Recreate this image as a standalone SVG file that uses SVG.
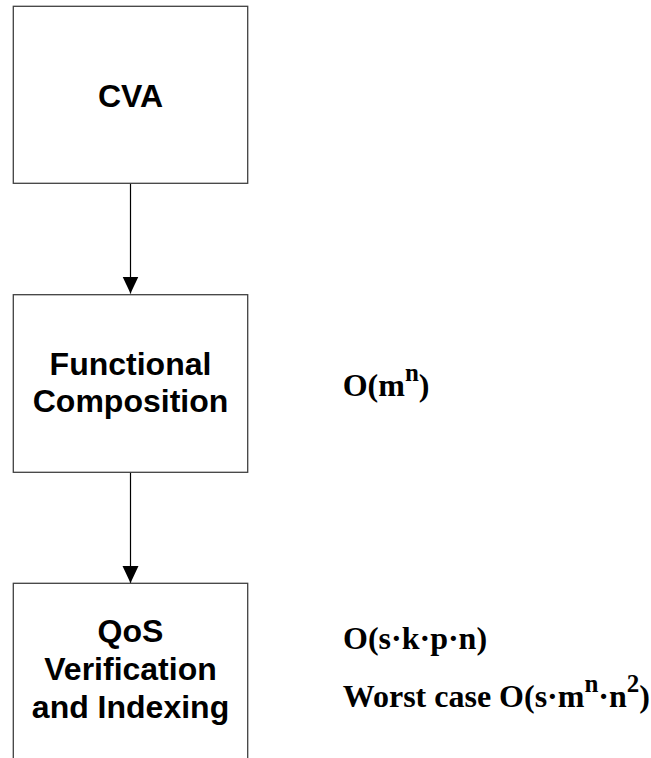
<svg xmlns="http://www.w3.org/2000/svg" width="651" height="758" viewBox="0 0 651 758">
<style>
.box{fill:#fff;stroke:#404040;stroke-width:1.3}
.lbl{font-family:"Liberation Sans",Arial,sans-serif;font-weight:bold;font-size:32px;fill:#000;text-anchor:middle}
.cx{font-family:"Liberation Serif","Times New Roman",serif;font-weight:bold;font-size:32px;fill:#000}
.con{stroke:#000;stroke-width:1.2;fill:none}
</style>
<defs>
<marker id="ah" markerUnits="userSpaceOnUse" markerWidth="18" markerHeight="18" viewBox="0 0 18 18" refX="17" refY="8" orient="auto">
<path d="M0,0 L17,8 L0,16 Z" fill="#000"/>
</marker>
</defs>
<rect width="651" height="758" fill="#fff"/>
<g id="connectors">
<line class="con" x1="130.5" y1="183.3" x2="130.5" y2="293.5" marker-end="url(#ah)"/>
<line class="con" x1="130.5" y1="472.3" x2="130.5" y2="583" marker-end="url(#ah)"/>
</g>
<g id="cva">
<rect class="box" x="13.3" y="6.3" width="234.4" height="177"/>
<text class="lbl" x="130.5" y="106.7">CVA</text>
</g>
<g id="functional-composition">
<rect class="box" x="13.3" y="294.7" width="234.4" height="177.6"/>
<text class="lbl" x="130.5" y="374.5">Functional</text>
<text class="lbl" x="130.5" y="412">Composition</text>
</g>
<g id="qos-verification">
<rect class="box" x="13.3" y="583.3" width="234.4" height="190"/>
<text class="lbl" x="130.5" y="641.5">QoS</text>
<text class="lbl" x="130.5" y="679.5">Verification</text>
<text class="lbl" x="130.5" y="717.5">and Indexing</text>
</g>
<g id="complexity">
<text class="cx" x="342.7" y="396">O(m<tspan font-size="25" dy="-15">n</tspan><tspan dy="15">)</tspan></text>
<text class="cx" x="343" y="649">O(s·k·p·n)</text>
<text class="cx" x="342.7" y="707">Worst case O(s·m<tspan font-size="25" dy="-15">n</tspan><tspan dy="15">·n</tspan><tspan font-size="25" dy="-15">2</tspan><tspan dy="15">)</tspan></text>
</g>
</svg>
